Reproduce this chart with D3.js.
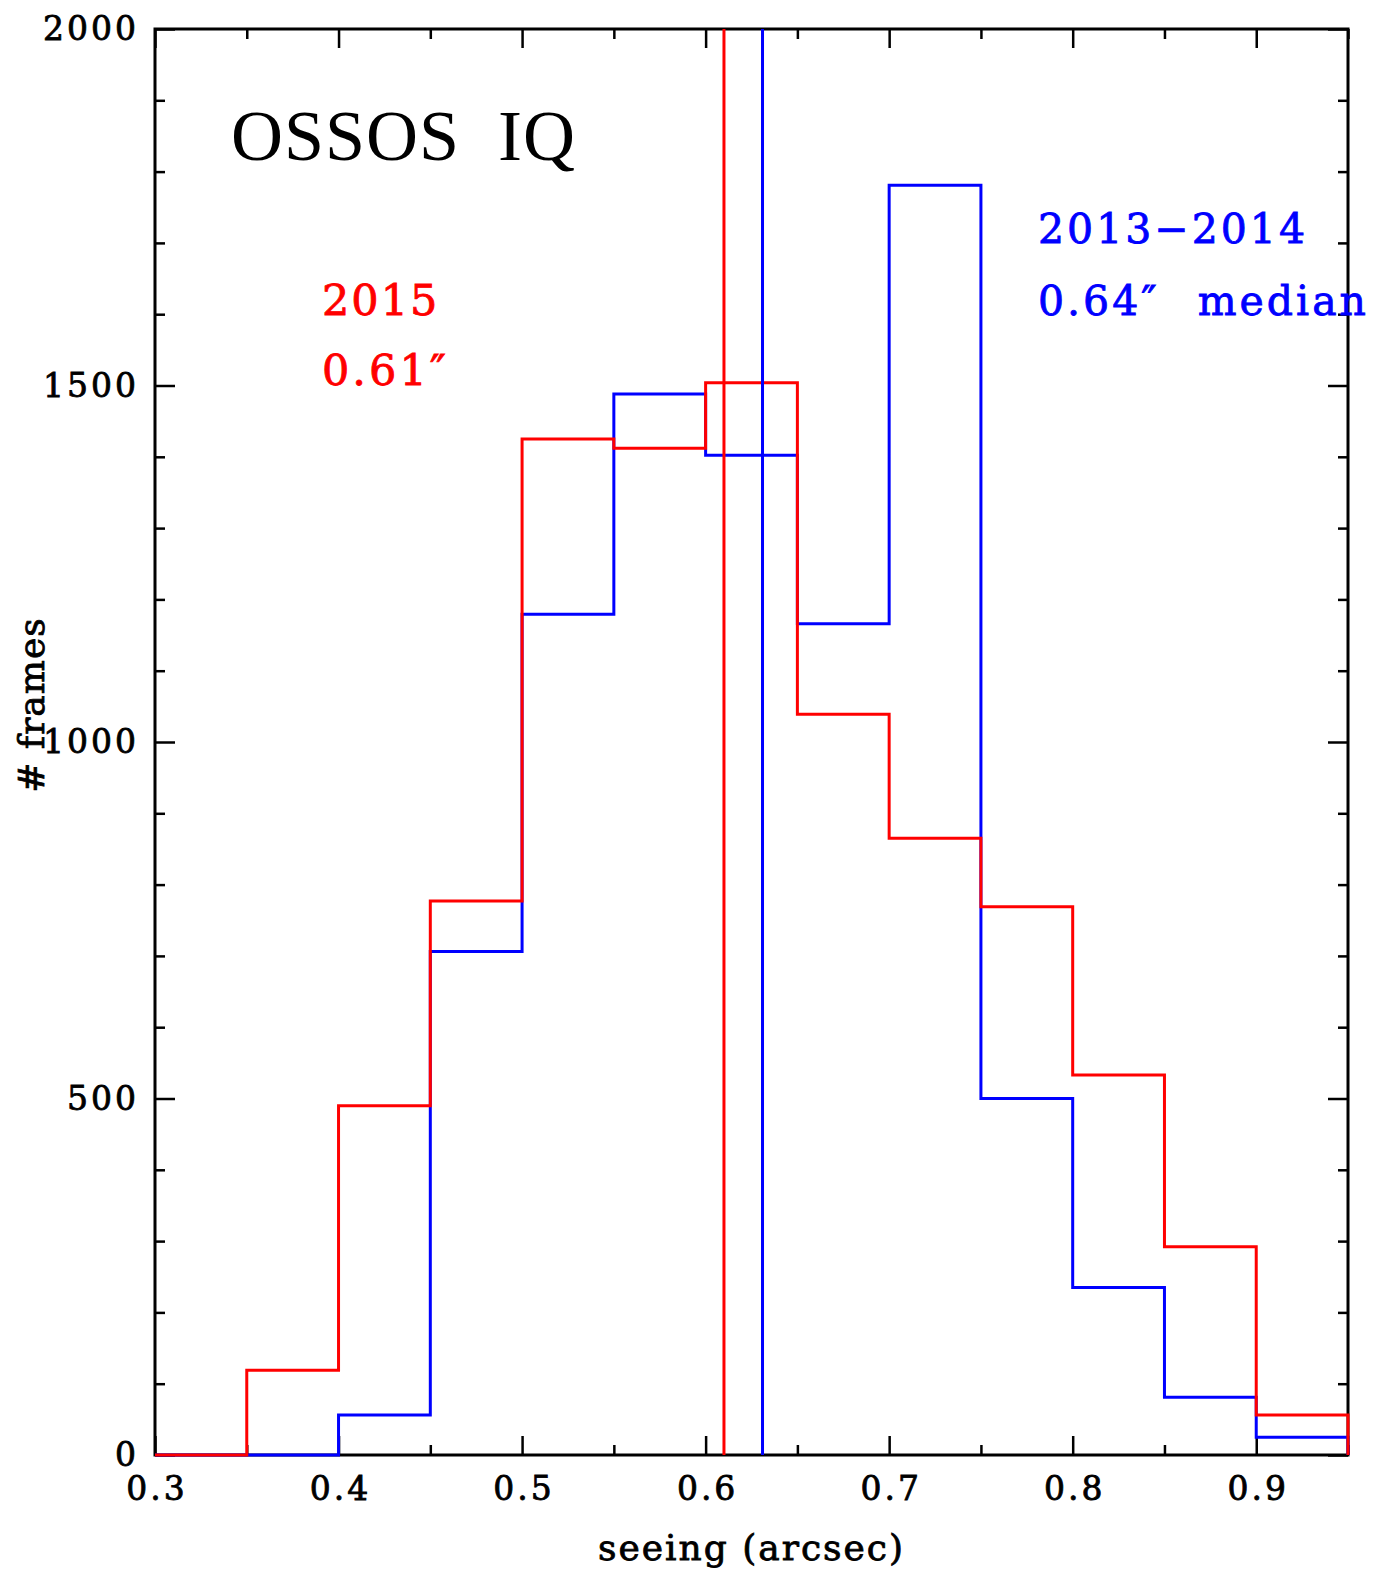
<!DOCTYPE html>
<html>
<head>
<meta charset="utf-8">
<script src="https://cdn.jsdelivr.net/npm/d3@7/dist/d3.min.js"></script>
<style>
  html, body { margin: 0; padding: 0; background: #fff; }
  svg { display: block; }
</style>
</head>
<body>
<svg id="chart" width="1378" height="1576"></svg>
<script>
// Bin edges of the seeing histogram (arcsec)
const binEdges = [0.30, 0.35, 0.40, 0.45, 0.50, 0.55, 0.60, 0.65, 0.70, 0.75, 0.80, 0.85, 0.90, 0.95];
// Frame counts per bin
const counts2015 = [0, 119, 490, 777, 1425, 1412, 1504, 1039, 865, 769, 533, 292, 56];
const counts2013_2014 = [0, 0, 56, 706, 1179, 1488, 1402, 1166, 1781, 500, 235, 81, 25];
// Median seeing markers
const median2015 = 0.61;
const median2013_2014 = 0.631;
// Tick values
const xMajorTicks = [0.3, 0.4, 0.5, 0.6, 0.7, 0.8, 0.9];
const xMinorTicks = [0.35, 0.45, 0.55, 0.65, 0.75, 0.85, 0.95];
const yMajorTicks = [0, 500, 1000, 1500, 2000];
const yMinorTicks = d3.range(0, 2001, 100).filter(v => v % 500 !== 0);

const svg = d3.select("#chart");
const margin = { left: 155, right: 30, top: 29, bottom: 121 };
const W = 1378, H = 1576;
const x0 = margin.left, x1 = W - margin.right;
const y0 = H - margin.bottom, y1 = margin.top;

const x = d3.scaleLinear().domain([0.30, 0.95]).range([x0, x1]);
const y = d3.scaleLinear().domain([0, 2000]).range([y0, y1]);

const textFont = "DejaVu Serif";

// Regular serif face, thickened slightly with a thin outline in the fill colour
function heavyText(sel, color) {
  return sel.attr("font-family", textFont).attr("fill", color)
    .attr("stroke", color).attr("stroke-width", 0.8);
}

function styleAxis(g) {
  g.select(".domain").remove();
  g.selectAll(".tick line").attr("stroke", "#000").attr("stroke-width", 2.5);
  g.selectAll(".tick text").call(heavyText, "#000")
    .attr("font-size", 33).attr("letter-spacing", 3);
}

// Bottom axis: major ticks with labels, minor ticks without
svg.append("g").attr("transform", `translate(0,${y0})`)
  .call(d3.axisBottom(x).tickValues(xMajorTicks).tickSize(-19).tickPadding(22).tickFormat(d3.format(".1f")))
  .call(styleAxis)
  .selectAll(".tick text").attr("dx", 1.5);
svg.append("g").attr("transform", `translate(0,${y0})`)
  .call(d3.axisBottom(x).tickValues(xMinorTicks).tickSize(-10).tickFormat(""))
  .call(styleAxis);
// Top axis (ticks only)
svg.append("g").attr("transform", `translate(0,${y1})`)
  .call(d3.axisTop(x).tickValues(xMajorTicks).tickSize(-19).tickFormat(""))
  .call(styleAxis);
svg.append("g").attr("transform", `translate(0,${y1})`)
  .call(d3.axisTop(x).tickValues(xMinorTicks).tickSize(-10).tickFormat(""))
  .call(styleAxis);
// Left axis
svg.append("g").attr("transform", `translate(${x0},0)`)
  .call(d3.axisLeft(y).tickValues(yMajorTicks).tickSize(-20).tickPadding(16).tickFormat(d3.format("d")))
  .call(styleAxis);
svg.append("g").attr("transform", `translate(${x0},0)`)
  .call(d3.axisLeft(y).tickValues(yMinorTicks).tickSize(-10).tickFormat(""))
  .call(styleAxis);
// Right axis (ticks only)
svg.append("g").attr("transform", `translate(${x1},0)`)
  .call(d3.axisRight(y).tickValues(yMajorTicks).tickSize(-20).tickFormat(""))
  .call(styleAxis);
svg.append("g").attr("transform", `translate(${x1},0)`)
  .call(d3.axisRight(y).tickValues(yMinorTicks).tickSize(-10).tickFormat(""))
  .call(styleAxis);

// Plot frame
svg.append("rect")
  .attr("x", x0).attr("y", y1)
  .attr("width", x1 - x0).attr("height", y0 - y1)
  .attr("fill", "none").attr("stroke", "#000").attr("stroke-width", 3);

// Histogram outlines as step paths
function stepPoints(counts) {
  const pts = [[binEdges[0], 0]];
  counts.forEach((c, i) => {
    pts.push([binEdges[i], c]);
    pts.push([binEdges[i + 1], c]);
  });
  pts.push([binEdges[binEdges.length - 1], 0]);
  return pts;
}
const line = d3.line().x(d => x(d[0])).y(d => y(d[1]));

svg.append("path").attr("d", line(stepPoints(counts2013_2014)))
  .attr("fill", "none").attr("stroke", "#0000ff").attr("stroke-width", 3)
  .attr("stroke-linejoin", "miter");
svg.append("path").attr("d", line(stepPoints(counts2015)))
  .attr("fill", "none").attr("stroke", "#ff0000").attr("stroke-width", 3)
  .attr("stroke-linejoin", "miter");

// Median lines
svg.append("line")
  .attr("x1", x(median2015)).attr("x2", x(median2015))
  .attr("y1", y(0)).attr("y2", y(2000))
  .attr("stroke", "#ff0000").attr("stroke-width", 3);
svg.append("line")
  .attr("x1", x(median2013_2014)).attr("x2", x(median2013_2014))
  .attr("y1", y(0)).attr("y2", y(2000))
  .attr("stroke", "#0000ff").attr("stroke-width", 3);

// Title and annotations
svg.append("text").attr("x", 231).attr("y", 160)
  .attr("font-family", "Liberation Serif").attr("font-size", 72)
  .attr("letter-spacing", 1).attr("fill", "#000")
  .text("OSSOS\u00a0\u00a0IQ");

svg.append("text").attr("x", 322).attr("y", 315)
  .call(heavyText, "#ff0000").attr("font-size", 43).attr("letter-spacing", 2)
  .text("2015");
svg.append("text").attr("x", 322).attr("y", 385)
  .call(heavyText, "#ff0000").attr("font-size", 43).attr("letter-spacing", 3)
  .text("0.61\u2033");

svg.append("text").attr("x", 1038).attr("y", 243)
  .call(heavyText, "#0000ff").attr("font-size", 41).attr("letter-spacing", 3)
  .text("2013\u22122014");
svg.append("text").attr("x", 1038).attr("y", 315)
  .call(heavyText, "#0000ff").attr("font-size", 41).attr("letter-spacing", 3)
  .attr("word-spacing", 22)
  .text("0.64\u2033 median");

// Axis titles
svg.append("text").attr("x", (x0 + x1) / 2).attr("y", 1560)
  .attr("text-anchor", "middle")
  .call(heavyText, "#000").attr("font-size", 36).attr("letter-spacing", 2)
  .text("seeing (arcsec)");
svg.append("text")
  .attr("transform", "translate(44,705) rotate(-90)")
  .attr("text-anchor", "middle")
  .call(heavyText, "#000").attr("font-size", 36).attr("letter-spacing", 1)
  .text("# frames");
</script>
</body>
</html>
